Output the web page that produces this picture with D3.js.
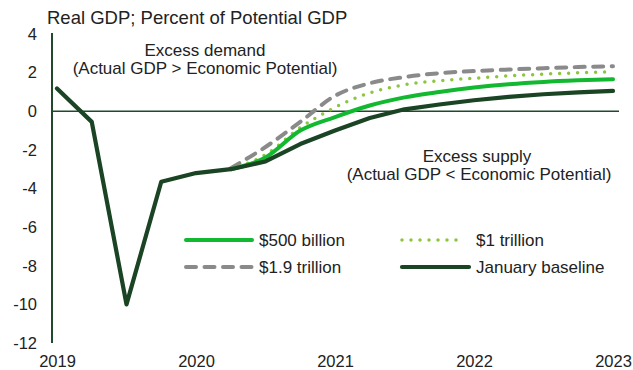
<!DOCTYPE html>
<html><head><meta charset="utf-8">
<script src="https://cdn.jsdelivr.net/npm/d3@7"></script>
<style>body{margin:0;background:#fff}svg text{font-family:"Liberation Sans",Arial,sans-serif}</style>
</head><body><svg id="c" width="633" height="370"></svg>
<script>
const quarters = d3.range(17); // 2019Q1 .. 2023Q1
const yearLabels = ["2019","2020","2021","2022","2023"];
const yTicks = [4,2,0,-2,-4,-6,-8,-10,-12];
const baseline = [1.18,-0.55,-10.0,-3.65,-3.2,-3.0,-2.6,-1.7,-1.0,-0.35,0.1,0.35,0.57,0.74,0.88,0.98,1.05];
const b500 = [null,null,null,null,null,-3.0,-2.4,-1.0,-0.3,0.3,0.72,1.0,1.23,1.4,1.52,1.6,1.66];
const t1 = [null,null,null,null,null,-3.0,-2.25,-0.85,0.2,0.95,1.37,1.58,1.71,1.83,1.92,1.99,2.04];
const t19 = [null,null,null,null,null,-2.95,-1.85,-0.55,0.8,1.45,1.77,1.97,2.08,2.16,2.23,2.29,2.33];
const seriesNames = ["$500 billion","$1 trillion","$1.9 trillion","January baseline"];

const svg = d3.select("#c");
const x = d3.scaleLinear().domain([0,16]).range([57,613]);
const y = d3.scaleLinear().domain([-12,4]).range([343,34]);
const axisCol = "#1f4a2c";
const fmt = d => String(d); // hyphen minus

svg.append("text").attr("x",47).attr("y",24).attr("font-size",18.5).attr("fill","#222").text("Real GDP; Percent of Potential GDP");

// y axis
const ya = svg.append("g").attr("transform","translate(52,0)")
  .call(d3.axisLeft(y).tickValues(yTicks).tickSize(0).tickPadding(15).tickFormat(fmt));
ya.select(".domain").attr("stroke",axisCol).attr("stroke-width",2).attr("d","M0,33V343");
ya.selectAll("text").attr("font-size",16.5).attr("fill","#222").attr("font-family","Liberation Sans, Arial, sans-serif");

// x axis labels
const xa = svg.append("g").attr("transform","translate(0,351)")
  .call(d3.axisBottom(x).tickValues([0,4,8,12,16]).tickSize(0).tickPadding(4).tickFormat((d,i)=>yearLabels[i]));
xa.select(".domain").remove();
xa.selectAll("text").attr("font-size",16.5).attr("fill","#222").attr("font-family","Liberation Sans, Arial, sans-serif");

// zero line
svg.append("line").attr("x1",52).attr("x2",619).attr("y1",y(0)).attr("y2",y(0)).attr("stroke",axisCol).attr("stroke-width",1.5);

// annotations
const ann = [["Excess demand",205,56],["(Actual GDP > Economic Potential)",205,74],["Excess supply",477,162],["(Actual GDP < Economic Potential)",479,180]];
svg.selectAll("text.ann").data(ann).enter().append("text").attr("class","ann")
  .attr("x",d=>d[1]).attr("y",d=>d[2]).attr("text-anchor","middle").attr("font-size",17).attr("fill","#222").text(d=>d[0]);

const styles = [
  {data:b500,color:"#12b830",w:4,dash:null,cap:"round"},
  {data:t1,color:"#8cc63e",w:3.5,dash:"0,9",cap:"round"},
  {data:t19,color:"#8a8a8a",w:4,dash:"10,8.5",cap:"round"},
  {data:baseline,color:"#1a4424",w:4.2,dash:null,cap:"round"}
];
const line = d3.line().defined(d=>d!=null).x((d,i)=>x(i)).y(d=>y(d)).curve(d3.curveMonotoneX);
const lineB = d3.line().x((d,i)=>x(i)).y(d=>y(d)).curve(d3.curveLinear);
[styles[2],styles[1],styles[0],styles[3]].forEach(s=>{
  const p = svg.append("path").datum(s.data).attr("fill","none").attr("stroke",s.color)
    .attr("stroke-width",s.w).attr("stroke-linecap",s.cap).attr("stroke-linejoin","round")
    .attr("d", s.data===baseline ? lineB : line);
  if(s.dash) p.attr("stroke-dasharray",s.dash);
});

// legend
const leg = [[186,252,259,240],[402,461,476,240],[186,252,259,267],[402,469,476,267]];
seriesNames.forEach((n,i)=>{
  const s = styles[i], L = leg[i];
  const l = svg.append("line").attr("x1",L[0]).attr("x2",L[1]).attr("y1",L[3]).attr("y2",L[3])
    .attr("stroke",s.color).attr("stroke-width",s.w).attr("stroke-linecap",s.cap);
  if(s.dash) l.attr("stroke-dasharray",s.dash);
  svg.append("text").attr("x",L[2]).attr("y",L[3]+6).attr("font-size",17).attr("fill","#222").text(n);
});
</script></body></html>
